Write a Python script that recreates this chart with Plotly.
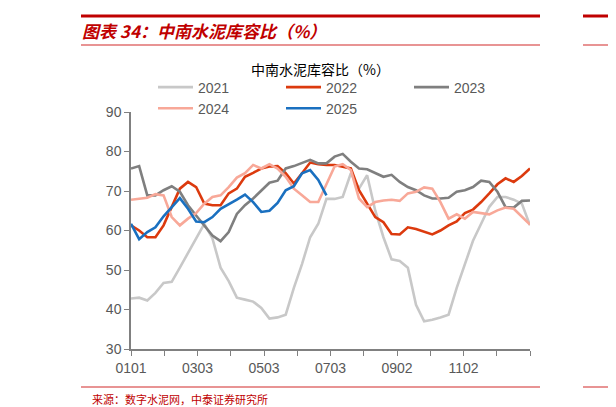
import plotly.graph_objects as go

y2021 = [42.8,43,42.3,44.2,46.7,47,50.6,54.4,58,61.7,58,50.6,47.2,43,42.5,42,40.4,37.7,38,38.7,45.5,51.5,58.3,61.7,68,68,68.5,74.5,70.6,74,65,58.3,52.7,52.3,50.6,41.2,37,37.4,38,38.7,45.5,51.5,57.4,61.7,66,68.5,68.5,67.8,66.8,61.3]
y2022 = [61.3,60,58.3,58.3,61.3,66,70.6,72.3,71,66.8,66.4,66.4,69.4,70.6,73.6,74.6,75.7,76.2,76.3,74.5,71.9,74.5,77.2,76.8,76.6,76.6,76.2,75.7,70.2,66.8,63.4,62.1,59.1,59,60.8,60.4,59.7,59,60,61.3,62.3,64.4,65.3,67.2,69.4,71.7,73.2,72.3,73.8,75.7]
y2023 = [75.7,76.3,68.9,68.9,70.2,71.2,69.8,66.4,63.8,61.3,58.7,57.3,59.6,64.2,66.4,68.1,70.2,72.1,72.6,75.7,76.3,77,77.9,77,77,78.7,79.4,77.4,75.7,75.5,74.5,73.6,74.1,72.3,71,70.2,68.9,68.1,68.1,68.3,69.8,70.2,71,72.6,72.3,69.8,65.9,65.8,67.5,67.6]
y2024 = [67.8,68,68.3,69.2,68.9,63.4,61.3,63,64.4,66.8,68.5,68.9,71,73.4,74.5,76.6,75.7,76.8,75.7,73.6,70.6,68.9,67.2,67.2,71.9,76.2,76.8,75.3,68.1,65.9,67.2,67.6,67.8,67.5,69.4,69.8,70.9,70.6,67.2,63,64.1,63,64.7,64.4,64.1,65.1,65.8,65.5,63.4,61.5]
y2025 = [61.7,57.8,59.6,60.8,63.6,66,68.2,65.5,62.3,62.1,63.4,65.5,66.6,67.8,69.1,67.2,64.7,65,67,70.2,71.2,74.5,75.3,72.8,68.9]
tick_labels = ["0101","","0303","","0503","","0703","","0902","","1102","",""]

series = [("2021", y2021, "#c8c8c8"), ("2022", y2022, "#dc3a0e"), ("2023", y2023, "#7f7f7f"),
          ("2024", y2024, "#f8a898"), ("2025", y2025, "#1a70c0")]

W, H = 616, 407
L, R, T, B = 123, 94, 104, 66
PW, PH = W - L - R, H - T - B

def px(x):
    return (x - L) / PW

def py(y):
    return (H - B - y) / PH

fig = go.Figure()
for name, ys, c in series:
    fig.add_trace(go.Scatter(x=list(range(len(ys))), y=ys, mode="lines", name=name,
                             line=dict(color=c, width=2.6)))

n = 49
tickvals = [i * n / 12 for i in range(13)]
fig.update_layout(
    width=W, height=H, paper_bgcolor="white", plot_bgcolor="white",
    margin=dict(l=L, r=R, t=T, b=B, autoexpand=False),
    font=dict(family="Arial, Liberation Sans", color="#595959"),
    showlegend=True,
    legend=dict(orientation="h", x=px(145), xanchor="left", y=py(90), yanchor="middle",
                font=dict(size=14, color="#595959"), entrywidth=78, entrywidthmode="pixels",
                itemwidth=35, tracegroupgap=0, bgcolor="rgba(0,0,0,0)"),
    xaxis=dict(range=[0, n], tickvals=tickvals, ticktext=tick_labels, showgrid=False,
               showline=True, linecolor="#808080", linewidth=1.5, ticks="outside",
               ticklen=5, tickcolor="#808080", tickfont=dict(size=14, color="#595959"),
               zeroline=False),
    yaxis=dict(range=[30, 90], dtick=10, showgrid=False, showline=True, linecolor="#808080",
               linewidth=1.5, ticks="outside", ticklen=5, tickcolor="#808080",
               tickfont=dict(size=14, color="#595959"), zeroline=False),
)
fig.add_annotation(text="<i><b>图表 34：中南水泥库容比（%）</b></i>", xref="paper", yref="paper",
                   x=px(72), y=py(22), xanchor="left", yanchor="middle", showarrow=False,
                   font=dict(size=17, color="#c00000", family="Noto Sans CJK SC"))
fig.add_annotation(text="中南水泥库容比（%）", xref="paper", yref="paper", x=px(312), y=py(61),
                   xanchor="center", yanchor="middle", showarrow=False,
                   font=dict(size=14, color="#000000", family="Noto Sans CJK SC"))
fig.add_annotation(text="来源：数字水泥网，中泰证券研究所", xref="paper", yref="paper",
                   x=px(82), y=py(391), xanchor="left", yanchor="middle", showarrow=False,
                   font=dict(size=11, color="#c00000", family="Noto Sans CJK SC"))
for y0, w, col in [(8, 3, "#c00000"), (37, 1.5, "#e07070"), (379, 1.5, "#e07070")]:
    for xa, xb in [(73, 532), (575, 620)]:
        fig.add_shape(type="line", xref="paper", yref="paper", x0=px(xa), x1=px(xb),
                      y0=py(y0), y1=py(y0), line=dict(color=col, width=w))
fig.write_html("out.html")
